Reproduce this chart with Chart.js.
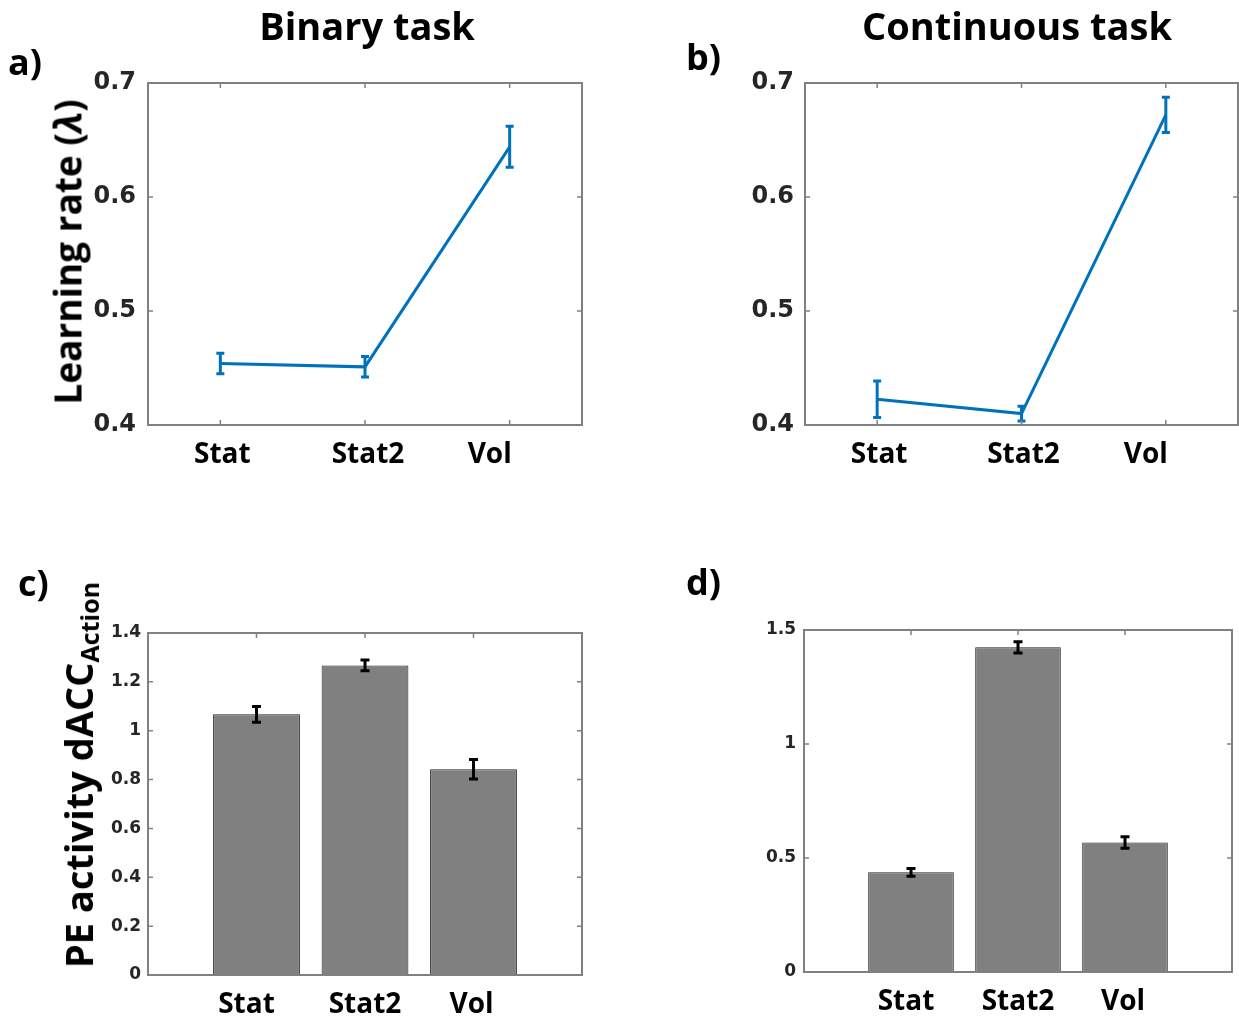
<!DOCTYPE html>
<html>
<head>
<meta charset="utf-8">
<script src="https://cdn.jsdelivr.net/npm/chart.js@4.4.1/dist/chart.umd.min.js"></script>
<style>
  body { margin: 0; background: #fff; }
  #page { position: relative; width: 1239px; height: 1017px; overflow: hidden; background: #fff; }
  canvas { position: absolute; }
  .txt { position: absolute; line-height: 1; white-space: nowrap; color: #000;
         font-family: "Open Sans", sans-serif; font-weight: 700; }
  .ctr { transform: translateX(-50%); }
  .ylab { transform: translate(-50%, -50%) rotate(-90deg); }
  .ylab sub { font-size: 0.66em; vertical-align: -0.25em; line-height: 0; }
</style>
</head>
<body>
<div id="page">
  <canvas id="panelA" width="600" height="440" style="left:0;top:40px;width:600px;height:440px"></canvas>
  <canvas id="panelB" width="619" height="440" style="left:620px;top:40px;width:619px;height:440px"></canvas>
  <canvas id="panelC" width="600" height="457" style="left:0;top:560px;width:600px;height:457px"></canvas>
  <canvas id="panelD" width="619" height="457" style="left:620px;top:560px;width:619px;height:457px"></canvas>

  <div class="txt ctr" style="left:367px;top:6px;font-size:38px">Binary task</div>
  <div class="txt ctr" style="left:1017px;top:6px;font-size:38px">Continuous task</div>

  <div class="txt" style="left:8px;top:44px;font-size:36px">a)</div>
  <div class="txt" style="left:686px;top:39px;font-size:36px">b)</div>
  <div class="txt" style="left:18px;top:565px;font-size:36px">c)</div>
  <div class="txt" style="left:686px;top:564px;font-size:36px">d)</div>

  <div class="txt ylab" style="left:67px;top:252px;font-size:37px">Learning rate (<i>λ</i>)</div>
  <div class="txt ylab" style="left:78px;top:775px;font-size:38px">PE activity dACC<sub>Action</sub></div>
</div>

<script>
// 条件
var categories = ['Stat', 'Stat2', 'Vol'];

// a) binary task, learning rate
var binaryRate = [0.454, 0.451, 0.644];
var binaryRateErr = [0.009, 0.009, 0.018];

// b) continuous task, learning rate
var contRate = [0.4225, 0.410, 0.672];
var contRateErr = [0.016, 0.0065, 0.0155];

// c) binary task, PE activity
var binaryPE = [1.067, 1.267, 0.842];
var binaryPEErr = [0.032, 0.022, 0.040];

// d) continuous task, PE activity
var contPE = [0.437, 1.424, 0.568];
var contPEErr = [0.017, 0.025, 0.025];

// tick labels
var rateTicks = [0.4, 0.5, 0.6, 0.7];
var peTicksC = [0, 0.2, 0.4, 0.6, 0.8, 1, 1.2, 1.4];
var peTicksD = [0, 0.5, 1, 1.5];

var AXIS_GRAY = '#808080';
var TICK_TEXT = '#262626';

// error bars, box with inward ticks, category labels
function panelPlugin(opt) {
  return {
    id: 'panel',
    afterDatasetsDraw: function(chart) {
      var ctx = chart.ctx;
      var xs = chart.scales.x, ys = chart.scales.y;
      var a = chart.chartArea;
      ctx.save();

      // error bars
      ctx.strokeStyle = opt.errColor;
      ctx.lineWidth = opt.errWidth;
      ctx.lineCap = 'butt';
      for (var i = 0; i < opt.values.length; i++) {
        var x = xs.getPixelForValue(i + 1);
        var y1 = ys.getPixelForValue(opt.values[i] + opt.errors[i]);
        var y2 = ys.getPixelForValue(opt.values[i] - opt.errors[i]);
        ctx.beginPath();
        ctx.moveTo(x, y1); ctx.lineTo(x, y2);
        ctx.moveTo(x - opt.cap, y1); ctx.lineTo(x + opt.cap, y1);
        ctx.moveTo(x - opt.cap, y2); ctx.lineTo(x + opt.cap, y2);
        ctx.stroke();
      }

      // box
      ctx.strokeStyle = AXIS_GRAY;
      ctx.lineWidth = 2;
      ctx.strokeRect(a.left, a.top, a.right - a.left, a.bottom - a.top);

      // inward ticks
      var tl = 5;
      ctx.lineWidth = 1.5;
      ctx.beginPath();
      xs.ticks.forEach(function(t) {
        var px = xs.getPixelForValue(t.value);
        ctx.moveTo(px, a.bottom); ctx.lineTo(px, a.bottom - tl);
        ctx.moveTo(px, a.top); ctx.lineTo(px, a.top + tl);
      });
      ys.ticks.forEach(function(t) {
        var py = ys.getPixelForValue(t.value);
        ctx.moveTo(a.left, py); ctx.lineTo(a.left + tl, py);
        ctx.moveTo(a.right, py); ctx.lineTo(a.right - tl, py);
      });
      ctx.stroke();

      // category labels
      ctx.fillStyle = '#000';
      ctx.font = 'bold 28px "Open Sans"';
      ctx.textAlign = 'center';
      ctx.textBaseline = 'alphabetic';
      categories.forEach(function(c, i) {
        ctx.fillText(c, xs.getPixelForValue(i + 1) + opt.nudge[i], a.bottom + 38);
      });
      ctx.restore();
    }
  };
}

function makePanel(id, opt) {
  var points = opt.values.map(function(v, i) { return { x: i + 1, y: v }; });
  var ds = { data: points };
  if (opt.type === 'bar') {
    ds.backgroundColor = '#808080';
    ds.borderColor = '#222';
    ds.borderWidth = 1;
    ds.categoryPercentage = 1;
    ds.barPercentage = 0.8;
  } else {
    ds.borderColor = '#0072BD';
    ds.borderWidth = 3;
    ds.pointRadius = 0;
    ds.fill = false;
    ds.tension = 0;
  }
  return new Chart(document.getElementById(id), {
    type: opt.type,
    data: { datasets: [ds] },
    options: {
      responsive: false,
      animation: false,
      events: [],
      layout: { padding: { top: opt.padTop, right: opt.padRight, left: 0, bottom: 0 } },
      plugins: { legend: { display: false }, tooltip: { enabled: false } },
      scales: {
        x: {
          type: 'linear', min: opt.xMin, max: opt.xMax, offset: false,
          grid: { display: false, drawTicks: false },
          border: { display: false },
          ticks: { display: false },
          afterBuildTicks: function(s) {
            s.ticks = categories.map(function(c, i) { return { value: i + 1 }; });
          },
          afterFit: function(s) { s.height = opt.xHeight; }
        },
        y: {
          min: opt.yTicks[0], max: opt.yTicks[opt.yTicks.length - 1],
          grid: { display: false, drawTicks: false },
          border: { display: false },
          ticks: {
            color: TICK_TEXT,
            padding: opt.tickPad,
            font: { family: 'DejaVu Sans', weight: 'bold', size: opt.tickSize },
            callback: function(v) { return String(v); }
          },
          afterBuildTicks: function(s) {
            s.ticks = opt.yTicks.map(function(v) { return { value: v }; });
          },
          afterFit: function(s) { s.width = opt.yWidth; }
        }
      }
    },
    plugins: [panelPlugin(opt)]
  });
}

makePanel('panelA', {
  type: 'line', values: binaryRate, errors: binaryRateErr, yTicks: rateTicks,
  xMin: 0.5, xMax: 3.5, yWidth: 148, xHeight: 55, padTop: 43, padRight: 18,
  tickPad: 12, tickSize: 24, errColor: '#0072BD', errWidth: 3, cap: 4, nudge: [2, 3, -20]
});
makePanel('panelB', {
  type: 'line', values: contRate, errors: contRateErr, yTicks: rateTicks,
  xMin: 0.5, xMax: 3.5, yWidth: 185, xHeight: 55, padTop: 43, padRight: 1,
  tickPad: 11, tickSize: 24, errColor: '#0072BD', errWidth: 3, cap: 4, nudge: [2, 2, -20]
});
makePanel('panelC', {
  type: 'bar', values: binaryPE, errors: binaryPEErr, yTicks: peTicksC,
  xMin: 0, xMax: 4, yWidth: 148, xHeight: 42, padTop: 73, padRight: 18,
  tickPad: 7, tickSize: 17, errColor: '#000', errWidth: 3, cap: 4.5, nudge: [-10, 0, -2]
});
makePanel('panelD', {
  type: 'bar', values: contPE, errors: contPEErr, yTicks: peTicksD,
  xMin: 0, xMax: 4, yWidth: 184, xHeight: 45, padTop: 70, padRight: 7,
  tickPad: 8, tickSize: 17, errColor: '#000', errWidth: 3, cap: 4.5, nudge: [-5, 0, -2]
});
</script>
</body>
</html>
